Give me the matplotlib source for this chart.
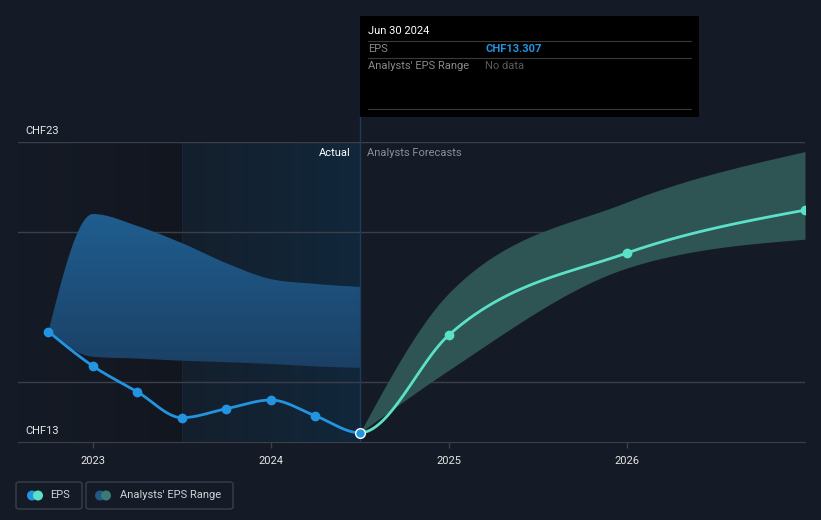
import numpy as np
import matplotlib.pyplot as plt
from matplotlib.patches import Rectangle, FancyBboxPatch, Ellipse, Polygon
from matplotlib.lines import Line2D
from matplotlib.colors import LinearSegmentedColormap

plt.rcParams['font.family'] = ['Roboto', 'DejaVu Sans']

# ---- data (decimal years) ----
eps_dates = [2022.75, 2023.0, 2023.25, 2023.5, 2023.75, 2024.0, 2024.25, 2024.5]
eps_values = [16.68, 15.53, 14.67, 13.81, 14.11, 14.40, 13.87, 13.307]

past_range_hi = [16.68, 20.60, 20.20, 19.63, 18.96, 18.43, 18.27, 18.17]
past_range_lo = [16.68, 15.84, 15.78, 15.71, 15.66, 15.60, 15.52, 15.47]

fc_dates = [2024.5, 2025.0, 2026.0, 2027.0]
fc_eps = [13.307, 16.57, 19.30, 20.73]
fc_hi = [13.307, 17.97, 21.00, 22.68]
fc_lo = [13.307, 15.40, 18.80, 19.76]

year_ticks = [2023, 2024, 2025, 2026]
y_labels = {13: "CHF13", 23: "CHF23"}
gridlines = [15, 20, 23]

BG = "#151b26"
BLUE = "#2394df"
TEAL = "#5ce1c9"
GRID = "#3a3f4a"
W, H = 821, 520


def monotone_curve(xs, ys, n=40):
    # monotone cubic (same idea as d3 curveMonotoneX)
    xs = np.asarray(xs, float)
    ys = np.asarray(ys, float)
    h = np.diff(xs)
    s = np.diff(ys) / h
    m = np.zeros_like(xs)
    for i in range(1, len(xs) - 1):
        p = (s[i - 1] * h[i] + s[i] * h[i - 1]) / (h[i - 1] + h[i])
        sg = (1 if s[i - 1] >= 0 else -1) + (1 if s[i] >= 0 else -1)
        m[i] = sg * min(abs(s[i - 1]), abs(s[i]), 0.5 * abs(p))
    if len(xs) > 2:
        m[0] = (3 * s[0] - m[1]) / 2
        m[-1] = (3 * s[-1] - m[-2]) / 2
    else:
        m[0] = m[-1] = s[0]
    ox, oy = [], []
    t = np.linspace(0, 1, n)
    h00 = 2 * t**3 - 3 * t**2 + 1
    h10 = t**3 - 2 * t**2 + t
    h01 = -2 * t**3 + 3 * t**2
    h11 = t**3 - t**2
    for i in range(len(h)):
        ox.append(xs[i] + t * h[i])
        oy.append(h00 * ys[i] + h10 * h[i] * m[i] + h01 * ys[i + 1] + h11 * h[i] * m[i + 1])
    return np.concatenate(ox), np.concatenate(oy)


def fx(px):
    return px / W


def fy(py):
    return 1 - py / H


fig = plt.figure(figsize=(8.21, 5.20), dpi=100, facecolor=BG)
ax = fig.add_axes([fx(18), fy(442), fx(805) - fx(18), fy(142) - fy(442)])
ax.set_facecolor(BG)
x0, x1 = 2022.579, 2027.0

# shaded backgrounds
dark = LinearSegmentedColormap.from_list("dk", [BG, "#12161f"])
ax.imshow(np.linspace(0, 1, 256).reshape(1, -1), cmap=dark, aspect="auto",
          extent=[x0, 2023.5, 13, 23], zorder=0, interpolation="bilinear")
act = LinearSegmentedColormap.from_list("ac", ["#141f2c", "#11273b"])
ax.imshow(np.linspace(0, 1, 256).reshape(1, -1), cmap=act, aspect="auto",
          extent=[2023.5, 2024.5, 13, 23], zorder=0, interpolation="bilinear")
ax.axvline(2023.5, color="#172535", lw=0.8, zorder=1)
ax.axvline(2024.5, color="#1f3b58", lw=1, zorder=1.5)

for g in gridlines:
    ax.axhline(g, color=GRID, lw=1, zorder=1)

# past analyst range (gradient fill)
bx, bhi = monotone_curve(eps_dates, past_range_hi)
_, blo = monotone_curve(eps_dates, past_range_lo)
poly = Polygon(np.column_stack([np.r_[bx, bx[::-1]], np.r_[bhi, blo[::-1]]]),
               closed=True, facecolor="none", edgecolor="none")
ax.add_patch(poly)
band_cmap = LinearSegmentedColormap.from_list("bd", ["#1b3f63", "#1f5f91"])
img = ax.imshow(np.linspace(0, 1, 128).reshape(-1, 1), cmap=band_cmap, aspect="auto",
                origin="lower", extent=[eps_dates[0], eps_dates[-1], 15.3, 20.8], zorder=2,
                interpolation="bilinear")
img.set_clip_path(poly)

# forecast range
fx_, fhi = monotone_curve(fc_dates, fc_hi)
_, flo = monotone_curve(fc_dates, fc_lo)
ax.fill_between(fx_, flo, fhi, color="#2e5553", lw=0, zorder=2)

# EPS line (one continuous curve, coloured by period)
all_x = eps_dates + fc_dates[1:]
all_y = eps_values + fc_eps[1:]
cx, cy = monotone_curve(all_x, all_y)
past = cx <= 2024.5
ax.plot(cx[past], cy[past], color=BLUE, lw=2, zorder=4, solid_capstyle="round")
ax.plot(cx[~past], cy[~past], color=TEAL, lw=2, zorder=4, solid_capstyle="round")
ax.plot(eps_dates[:-1], eps_values[:-1], "o", color=BLUE, ms=6, zorder=5)
ax.plot(fc_dates[1:], fc_eps[1:], "o", color=TEAL, ms=6, zorder=5)
ax.plot([eps_dates[-1]], [eps_values[-1]], "o", color=BLUE, ms=7, mec="white", mew=1, zorder=6,
        clip_on=False)

ax.set_xlim(x0, x1)
ax.set_ylim(13, 23)

for s in ax.spines.values():
    s.set_visible(False)
ax.spines["bottom"].set_visible(True)
ax.spines["bottom"].set_color(GRID)
ax.set_yticks([])
ax.set_xticks(year_ticks)
ax.set_xticklabels([str(y) for y in year_ticks])
ax.tick_params(axis="x", colors=GRID, length=4, width=1, pad=6, labelcolor="#e6e6e6", labelsize=8)

# y labels
for v, lab in y_labels.items():
    ax.text(x0 + 0.04, v + 0.2, lab, color="#e6e6e6", fontsize=8, va="bottom", ha="left")

ax.text(2024.45, 22.65, "Actual", color="#ffffff", fontsize=8, ha="right", va="center")
ax.text(2024.54, 22.65, "Analysts Forecasts", color="#8a8f98", fontsize=8, ha="left", va="center")

# marker line continues up to the tooltip
fig.add_artist(Line2D([fx(360), fx(360)], [fy(142), fy(117)], color="#1f3b58", lw=1))

# tooltip
fig.add_artist(Rectangle((fx(360), fy(117)), fx(699) - fx(360), fy(16) - fy(117),
                         facecolor="#000000", edgecolor="none"))
fig.text(fx(368), fy(31), "Jun 30 2024", color="#ffffff", fontsize=8, va="center")
for ly in (41, 58, 109):
    fig.add_artist(Line2D([fx(368), fx(691)], [fy(ly), fy(ly)], color="#3a3a3a", lw=0.8))
fig.text(fx(368), fy(49), "EPS", color="#8a8a8a", fontsize=8, va="center")
fig.text(fx(485), fy(49), "CHF13.307", color=BLUE, fontsize=8, va="center", fontweight="bold")
fig.text(fx(368), fy(66), "Analysts' EPS Range", color="#8a8a8a", fontsize=8, va="center")
fig.text(fx(485), fy(66), "No data", color="#5a5a5a", fontsize=8, va="center")

# legend
for (bx0, bx1) in ((16, 82), (86, 233)):
    fig.add_artist(FancyBboxPatch((fx(bx0), fy(509)), fx(bx1) - fx(bx0), fy(482) - fy(509),
                                  boxstyle="round,pad=0,rounding_size=0.004",
                                  facecolor="none", edgecolor=GRID, lw=1))
for cxp, col in ((32, BLUE), (38, TEAL), (100, "#1d5a88"), (106, "#3b7a76")):
    fig.add_artist(Ellipse((fx(cxp), fy(495.5)), 10 / W, 10 / H, facecolor=col,
                           edgecolor="none", transform=fig.transFigure))
fig.text(fx(50), fy(495.5), "EPS", color="#cfd2d6", fontsize=8, va="center")
fig.text(fx(120), fy(495.5), "Analysts' EPS Range", color="#cfd2d6", fontsize=8, va="center")

fig.savefig("out.png", dpi=100, facecolor=BG)
